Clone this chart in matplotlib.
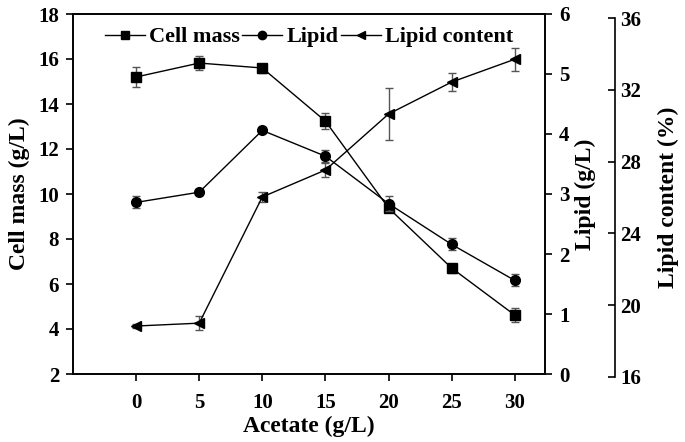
import numpy as np
import matplotlib
matplotlib.use('Agg')
import matplotlib.pyplot as plt
from matplotlib.lines import Line2D

# --- data ---
acetate = [0, 5, 10, 15, 20, 25, 30]
cell_mass = [15.2, 15.82, 15.6, 13.24, 9.38, 6.71, 4.62]
cell_mass_err = [0.44, 0.3, 0.2, 0.36, 0.2, 0.2, 0.3]
lipid = [2.86, 3.03, 4.06, 3.63, 2.84, 2.16, 1.56]
lipid_err = [0.1, 0.05, 0.05, 0.1, 0.12, 0.1, 0.1]
lipid_content = [18.84, 19.0, 26.03, 27.53, 30.65, 32.43, 33.7]
lipid_content_err = [0.1, 0.4, 0.3, 0.4, 1.45, 0.5, 0.64]

plt.rcParams['font.family'] = ['Liberation Serif', 'DejaVu Serif']
plt.rcParams['font.weight'] = 'bold'

W, H = 685, 442
fig = plt.figure(figsize=(W / 100, H / 100), dpi=100)
ax1 = fig.add_axes([73 / W, (H - 374) / H, (545 - 73) / W, (374 - 14) / H])
ax2 = ax1.twinx()
ax3 = fig.add_axes([73 / W, (H - 377) / H, (545 - 73) / W, (377 - 18) / H])
ax3.patch.set_visible(False)
for s in ['left', 'top', 'bottom']:
    ax3.spines[s].set_visible(False)
ax3.spines['right'].set_position(('axes', 1.148))
ax3.xaxis.set_visible(False)
ax3.yaxis.tick_right()
ax3.yaxis.set_label_position('right')

err_kw = dict(ecolor='#555555', elinewidth=1, capsize=3, capthick=1)
line_kw = dict(color='black', lw=1, markersize=7)

ax1.errorbar(acetate, cell_mass, yerr=cell_mass_err, marker='s', **line_kw, **err_kw)
ax2.errorbar(acetate, lipid, yerr=lipid_err, marker='o', **line_kw, **err_kw)
ax3.errorbar(acetate, lipid_content, yerr=lipid_content_err, marker='<', **line_kw, **err_kw)

for ax in (ax1, ax2, ax3):
    ax.set_xlim(-5, 32.4)

ax1.set_ylim(2, 18)
ax1.set_yticks(np.arange(2, 19, 2))
ax2.set_ylim(0, 6)
ax2.set_yticks(range(0, 7))
ax3.set_ylim(16, 36)
ax3.set_yticks(range(16, 37, 4))
ax1.set_xticks(acetate)

for ax in (ax1, ax2):
    ax.tick_params(direction='out', length=5, width=1.2, labelsize=15, pad=5)
ax1.tick_params(axis='x', pad=9)
ax3.tick_params(axis='y', direction='in', length=5, width=1.2, labelsize=15, pad=4)
for ax in (ax1, ax2, ax3):
    for s in ax.spines.values():
        s.set_linewidth(1.2)

ax1.set_xlabel('Acetate (g/L)', fontsize=17, fontweight='bold', labelpad=2)
ax1.set_ylabel('Cell mass (g/L)', fontsize=17, fontweight='bold', labelpad=6)
ax2.set_ylabel('Lipid (g/L)', fontsize=17, fontweight='bold')
ax3.set_ylabel('Lipid content (%)', fontsize=17, fontweight='bold', labelpad=12)

handles = [Line2D([], [], color='black', lw=1, marker=m, markersize=6) for m in ['s', 'o', '<']]
ax1.legend(handles, ['Cell mass', 'Lipid', 'Lipid content'], loc='upper center',
           bbox_to_anchor=(0.5, 1.02), ncol=3, frameon=False,
           handlelength=1.8, handletextpad=0.2, columnspacing=0.1,
           prop={'weight': 'bold', 'size': 16})

fig.savefig('out.png', dpi=100)
